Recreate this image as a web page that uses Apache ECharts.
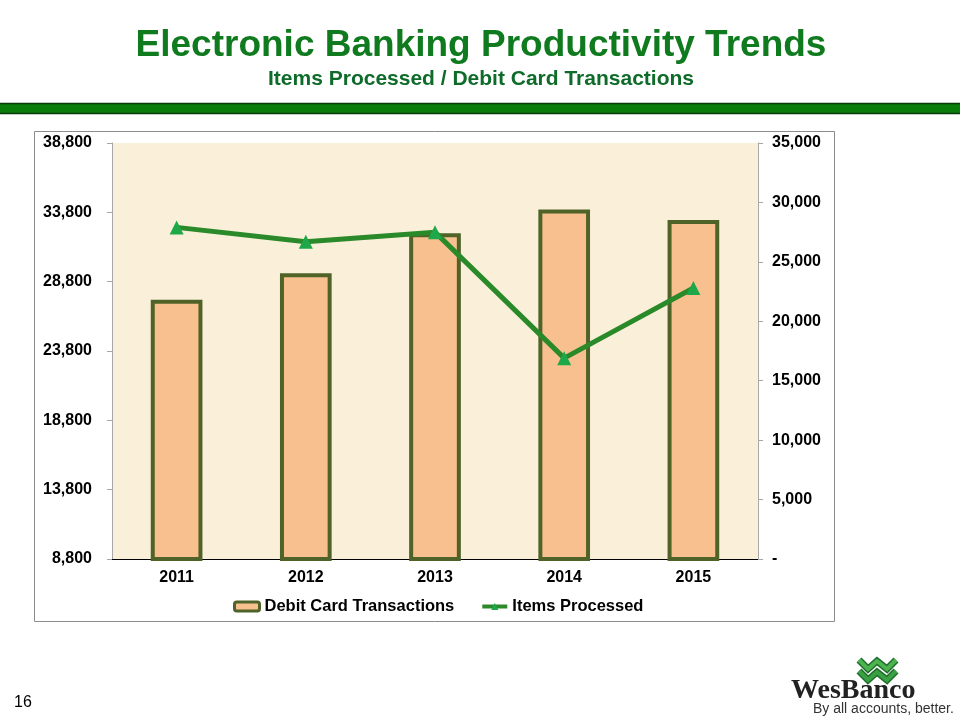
<!DOCTYPE html>
<html><head><meta charset="utf-8">
<script src="https://cdn.jsdelivr.net/npm/echarts@6/dist/echarts.min.js"></script>
<style>html,body{margin:0;padding:0;background:#fff}#c{width:960px;height:720px}</style>
</head><body><div id="c"></div>
<script>
const categories = ['2011','2012','2013','2014','2015'];
const debitCardTransactions = [27500, 29400, 32300, 34000, 33250];
const itemsProcessed = [27900, 26700, 27500, 16900, 22800];
const leftTicks = [8800, 38800, 5000];
const rightTicks = [0, 35000, 5000];

const chart = echarts.init(document.getElementById('c'), null, {renderer:'canvas'});
const fmt = v => v === 0 ? '-' : v.toLocaleString('en-US');
const FONT = 'Liberation Sans, Arial, sans-serif';
chart.setOption({
  backgroundColor: '#ffffff',
  animation: false,
  textStyle: {fontFamily: FONT},
  graphic: [
    {type:'rect', z:-10, shape:{x:34.5,y:131.5,width:800,height:490}, style:{fill:'#fff', stroke:'#8c8c8c', lineWidth:1}},
    {type:'rect', z:1, shape:{x:-2,y:103.5,width:964,height:10}, style:{fill:'#0b7d0b', stroke:'#0a3a0a', lineWidth:1.5}},
    {type:'text', z:5, x:481, y:46, style:{text:'Electronic Banking Productivity Trends', fill:'#0f7a1e', font:'bold 37px Liberation Sans, Arial, sans-serif', align:'center', verticalAlign:'middle', shadowColor:'rgba(0,0,0,0.5)', shadowOffsetX:2, shadowOffsetY:2, shadowBlur:1}},
    {type:'text', z:5, x:481, y:79, style:{text:'Items Processed / Debit Card Transactions', fill:'#0e6b2a', font:'bold 21px Liberation Sans, Arial, sans-serif', align:'center', verticalAlign:'middle', shadowColor:'rgba(0,0,0,0.5)', shadowOffsetX:1.5, shadowOffsetY:1.5, shadowBlur:1}},
    {type:'text', z:5, x:14, y:703, style:{text:'16', fill:'#000', font:'16px Liberation Sans, Arial, sans-serif', align:'left', verticalAlign:'middle'}},
    {type:'polyline', z:5, shape:{points:[[859,660],[868,669],[877,661],[887,669],[896,660]]}, style:{stroke:'#1e6e2c', lineWidth:7, fill:null, lineJoin:'miter'}},
    {type:'polyline', z:6, shape:{points:[[859,660],[868,669],[877,661],[887,669],[896,660]]}, style:{stroke:'#4db34f', lineWidth:4, fill:null, lineJoin:'miter'}},
    {type:'polyline', z:5, shape:{points:[[859,671],[868,680],[877,672],[887,680],[896,671]]}, style:{stroke:'#1e6e2c', lineWidth:7, fill:null, lineJoin:'miter'}},
    {type:'polyline', z:6, shape:{points:[[859,671],[868,680],[877,672],[887,680],[896,671]]}, style:{stroke:'#3aa043', lineWidth:4, fill:null, lineJoin:'miter'}},
    {type:'text', z:7, x:791, y:691, style:{text:'WesBanco', fill:'#222', font:'bold 28px Liberation Serif, Times New Roman, serif', align:'left', verticalAlign:'middle'}},
    {type:'text', z:5, x:813, y:709, style:{text:'By all accounts, better.', fill:'#333', font:'14px Liberation Sans, Arial, sans-serif', align:'left', verticalAlign:'middle'}}
  ],
  grid: {left:112, right:202, top:143, bottom:161, show:true, backgroundColor:'#faf0d9', borderWidth:0},
  legend: {
    top: 593, left: 228,
    itemWidth: 25, itemHeight: 9, itemGap: 26,
    textStyle: {fontSize:16.5, fontWeight:'bold', color:'#000', fontFamily: FONT},
    data: [{name:'Debit Card Transactions', itemStyle:{borderWidth:3, borderColor:'#4f6228'}}, {name:'Items Processed', lineStyle:{width:4}}]
  },
  xAxis: {
    type:'category', data: categories,
    axisLine:{lineStyle:{color:'#000', width:1}},
    axisTick:{show:false},
    axisLabel:{fontSize:16, fontWeight:'bold', color:'#000', margin:11, fontFamily: FONT}
  },
  yAxis: [
    {type:'value', min:leftTicks[0], max:leftTicks[1], interval:leftTicks[2],
     axisLine:{show:true, lineStyle:{color:'#a8a8a8'}},
     axisTick:{show:true, length:5, lineStyle:{color:'#a8a8a8'}},
     splitLine:{show:false},
     axisLabel:{formatter: fmt, fontSize:16, fontWeight:'bold', color:'#000', margin:20, fontFamily: FONT}},
    {type:'value', min:rightTicks[0], max:rightTicks[1], interval:rightTicks[2], position:'right',
     axisLine:{show:true, lineStyle:{color:'#a8a8a8'}},
     axisTick:{show:true, length:5, lineStyle:{color:'#a8a8a8'}},
     splitLine:{show:false},
     axisLabel:{formatter: fmt, fontSize:16, fontWeight:'bold', color:'#000', margin:14, fontFamily: FONT}}
  ],
  series: [
    {name:'Debit Card Transactions', type:'bar', data: debitCardTransactions, barWidth:'40%',
     itemStyle:{color:'#f9c08f', borderColor:'#4f6228', borderWidth:4}},
    {name:'Items Processed', type:'line', yAxisIndex:1, data: itemsProcessed,
     symbol:'triangle', symbolSize:14,
     lineStyle:{color:'#2a8a2a', width:5},
     itemStyle:{color:'#1fa84a'}}
  ]
});
</script></body></html>
